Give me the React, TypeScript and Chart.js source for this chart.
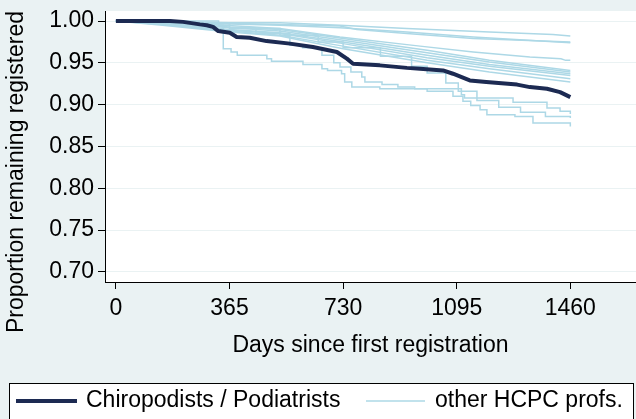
import React, { useEffect, useRef } from "react";
import { Chart, registerables } from "chart.js";

Chart.register(...registerables);

// ---------- data ----------
const xTicks = [0, 365, 730, 1095, 1460];
const yTicks = [0.7, 0.75, 0.8, 0.85, 0.9, 0.95, 1.0];

const podLabel = "Chiropodists / Podiatrists";
const otherLabel = "other HCPC profs.";

const podDays = [0, 174, 216, 270, 292, 312, 329, 366, 388, 430, 484, 559, 633, 710, 742, 762, 848, 935, 977, 1051, 1083, 1137, 1190, 1289, 1330, 1385, 1427, 1460];
const podVals = [1.0, 1.0, 0.999, 0.996, 0.995, 0.993, 0.988, 0.986, 0.981, 0.98, 0.976, 0.973, 0.969, 0.963, 0.955, 0.949, 0.947, 0.944, 0.943, 0.941, 0.937, 0.929, 0.927, 0.924, 0.921, 0.919, 0.915, 0.909];

// other professions: gently declining curves
const otherU1 = [[0, 1], [365, 0.998], [527, 0.998], [720, 0.995], [935, 0.991], [1200, 0.987], [1404, 0.984], [1460, 0.982]];
const otherU2 = [[0, 1], [300, 0.998], [527, 0.996], [720, 0.994], [774, 0.99], [935, 0.985], [1148, 0.979], [1460, 0.975]];
const otherU3 = [[0, 1], [300, 0.997], [527, 0.995], [720, 0.992], [935, 0.987], [1148, 0.981], [1460, 0.974]];
const otherU4 = [[0, 1], [250, 0.997], [527, 0.991], [720, 0.981], [977, 0.97], [1148, 0.963], [1330, 0.957], [1430, 0.955], [1445, 0.953], [1460, 0.953]];
const otherM1 = [[0, 1], [200, 0.998], [365, 0.993], [527, 0.99], [730, 0.979], [1000, 0.965], [1200, 0.953], [1460, 0.941]];
const otherM2 = [[0, 1], [180, 0.997], [365, 0.992], [527, 0.988], [730, 0.977], [1000, 0.962], [1200, 0.951], [1460, 0.939]];
const otherM3 = [[0, 1], [160, 0.997], [365, 0.99], [527, 0.986], [730, 0.975], [1000, 0.959], [1200, 0.948], [1460, 0.937]];
const otherM4 = [[0, 1], [170, 0.996], [365, 0.989], [527, 0.985], [730, 0.973], [1000, 0.956], [1200, 0.946], [1460, 0.935]];
const otherM5 = [[0, 1], [150, 0.996], [365, 0.988], [527, 0.983], [730, 0.97], [1000, 0.953], [1200, 0.943], [1460, 0.931]];
const otherM6 = [[0, 1], [150, 0.995], [365, 0.987], [527, 0.982], [730, 0.967], [1000, 0.95], [1200, 0.939], [1460, 0.927]];
// other professions: step-like curves with larger drops
const otherLA = [[0, 1], [330, 0.995], [345, 0.967], [370, 0.963], [390, 0.959], [485, 0.955], [500, 0.952], [601, 0.948], [662, 0.943], [680, 0.941], [725, 0.937], [735, 0.927], [758, 0.921], [848, 0.919], [1000, 0.916], [1083, 0.91], [1115, 0.904], [1140, 0.899], [1170, 0.894], [1192, 0.888], [1282, 0.886], [1340, 0.878], [1460, 0.874]];
const otherLB = [[0, 1], [200, 0.997], [365, 0.992], [450, 0.985], [559, 0.971], [600, 0.968], [662, 0.959], [700, 0.95], [720, 0.945], [755, 0.939], [790, 0.933], [800, 0.927], [855, 0.924], [906, 0.921], [960, 0.919], [1110, 0.912], [1120, 0.908], [1276, 0.903], [1385, 0.896], [1427, 0.892], [1460, 0.889]];
const otherLC = [[0, 1], [220, 0.997], [365, 0.991], [527, 0.983], [650, 0.975], [730, 0.968], [850, 0.958], [950, 0.946], [1000, 0.938], [1060, 0.926], [1100, 0.916], [1160, 0.905], [1230, 0.897], [1300, 0.891], [1380, 0.886], [1460, 0.884]];

const smoothOthers = [otherU1, otherU2, otherU3, otherU4, otherM1, otherM2, otherM3, otherM4, otherM5, otherM6];
const steppedOthers = [otherLA, otherLB, otherLC];

// ---------- style ----------
const NAVY = "#1c2a52";
const LTBLUE = "#add8e6";
const BG = "#EAF2F3";
const FONT = "'Liberation Sans', Arial, Helvetica, sans-serif";
const FS = 23;

const decorPlugin = {
  id: "decor",
  beforeDraw(chart: any) {
    const { ctx, chartArea } = chart;
    ctx.save();
    ctx.fillStyle = "#ffffff";
    ctx.fillRect(chartArea.left, chartArea.top, chartArea.right - chartArea.left, chartArea.bottom - chartArea.top);
    ctx.restore();
  },
  afterDraw(chart: any) {
    const { ctx } = chart;
    ctx.save();
    // y-axis title
    ctx.font = `${FS}px ${FONT}`;
    ctx.fillStyle = "#000";
    ctx.textAlign = "center";
    ctx.textBaseline = "middle";
    ctx.translate(17, 172);
    ctx.rotate(-Math.PI / 2);
    ctx.fillText("Proportion remaining registered", 0, 0);
    ctx.restore();

    // legend
    ctx.save();
    ctx.fillStyle = "#ffffff";
    ctx.fillRect(9.5, 383.5, 624, 50);
    ctx.strokeStyle = "#000";
    ctx.lineWidth = 1;
    ctx.strokeRect(9.5, 383.5, 624, 50);
    const ly = 401;
    ctx.strokeStyle = NAVY;
    ctx.lineWidth = 4;
    ctx.beginPath();
    ctx.moveTo(16, ly);
    ctx.lineTo(77, ly);
    ctx.stroke();
    ctx.strokeStyle = LTBLUE;
    ctx.lineWidth = 1.5;
    ctx.beginPath();
    ctx.moveTo(366, ly);
    ctx.lineTo(425, ly);
    ctx.stroke();
    ctx.font = `${FS}px ${FONT}`;
    ctx.fillStyle = "#000";
    ctx.textAlign = "left";
    ctx.textBaseline = "middle";
    ctx.fillText(podLabel, 86, ly);
    ctx.fillText(otherLabel, 435, ly);
    ctx.restore();
  },
};

export default function App() {
  const ref = useRef<HTMLCanvasElement | null>(null);

  useEffect(() => {
    if (!ref.current) return;
    const toXY = (arr: number[][]) => arr.map(([x, y]) => ({ x, y }));
    const datasets: any[] = [
      {
        label: podLabel,
        data: podDays.map((d, i) => ({ x: d, y: podVals[i] })),
        borderColor: NAVY,
        borderWidth: 4,
        pointRadius: 0,
        tension: 0,
        borderJoinStyle: "round",
        borderCapStyle: "butt",
      },
      ...smoothOthers.map((arr) => ({
        label: otherLabel,
        data: toXY(arr),
        borderColor: LTBLUE,
        borderWidth: 1.5,
        pointRadius: 0,
        tension: 0,
      })),
      ...steppedOthers.map((arr) => ({
        label: otherLabel,
        data: toXY(arr),
        borderColor: LTBLUE,
        borderWidth: 1.5,
        pointRadius: 0,
        tension: 0,
        stepped: true,
      })),
    ];

    const chart = new Chart(ref.current, {
      type: "line",
      data: { datasets },
      plugins: [decorPlugin],
      options: {
        animation: false,
        responsive: false,
        devicePixelRatio: 1,
        layout: { padding: { top: 11, left: 0, right: 0, bottom: 0 } },
        plugins: { legend: { display: false }, tooltip: { enabled: false } },
        scales: {
          x: {
            type: "linear",
            min: -35,
            max: 1671,
            afterBuildTicks: (scale: any) => {
              scale.ticks = xTicks.map((v) => ({ value: v }));
            },
            afterFit: (scale: any) => {
              scale.height = 137;
              scale.paddingLeft = 0;
              scale.paddingRight = 0;
            },
            ticks: {
              color: "#000",
              font: { family: FONT, size: FS },
              padding: 6,
              maxRotation: 0,
              autoSkip: false,
              callback: (v: any) => String(v),
            },
            grid: {
              drawOnChartArea: false,
              tickLength: 7,
              tickColor: "#000",
              tickWidth: 1,
            },
            border: { display: true, color: "#000", width: 1 },
            title: {
              display: true,
              text: "Days since first registration",
              color: "#000",
              font: { family: FONT, size: FS },
              padding: { top: 0, bottom: 60 },
            },
          },
          y: {
            type: "linear",
            min: 0.688,
            max: 1.012,
            afterBuildTicks: (scale: any) => {
              scale.ticks = yTicks.map((v) => ({ value: v }));
            },
            afterFit: (scale: any) => {
              scale.width = 105;
              scale.paddingTop = 0;
              scale.paddingBottom = 0;
            },
            ticks: {
              color: "#000",
              font: { family: FONT, size: FS },
              padding: 4,
              callback: (v: any) => Number(v).toFixed(2),
            },
            grid: {
              color: BG,
              lineWidth: 1,
              tickLength: 7,
              tickColor: "#000",
              tickWidth: 1,
            },
            border: { display: true, color: "#000", width: 1 },
          },
        },
      } as any,
    });
    return () => chart.destroy();
  }, []);

  return (
    <div style={{ position: "fixed", left: 0, top: 0, width: 636, height: 419, background: BG }}>
      <canvas ref={ref} width={636} height={419} style={{ display: "block" }} />
    </div>
  );
}
